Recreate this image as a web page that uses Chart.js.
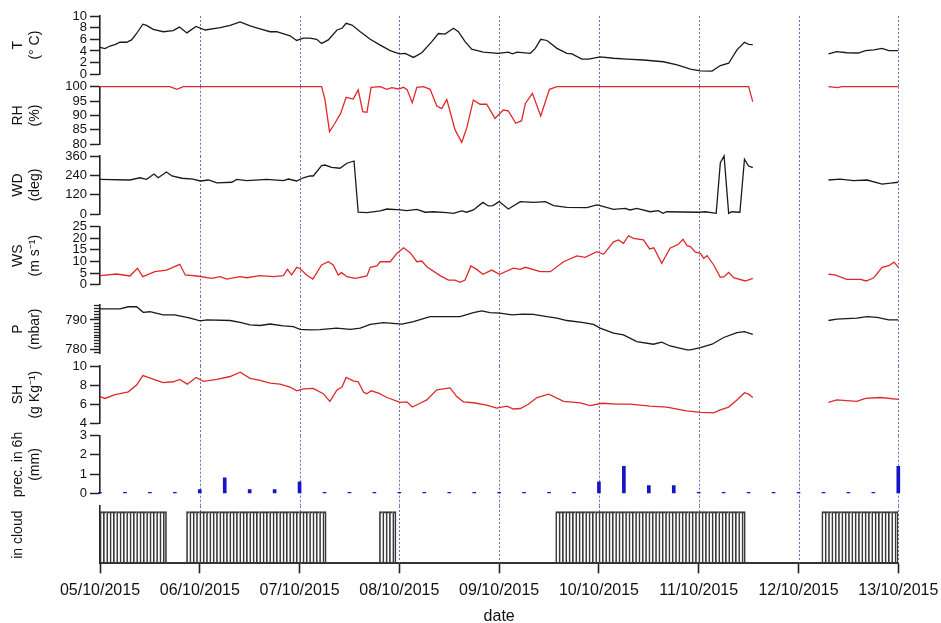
<!DOCTYPE html>
<html>
<head>
<meta charset="utf-8">
<script src="https://cdn.jsdelivr.net/npm/chart.js@4.4.1/dist/chart.umd.min.js"></script>
<style>
  html, body { margin: 0; padding: 0; background: #fff; }
  #wrap { position: relative; width: 941px; height: 623px; overflow: hidden; background: #fff; }
  #wrap canvas { position: absolute; left: 0; top: 0; }
</style>
</head>
<body>
<div id="wrap"></div>
<script>
// ---- data: hours since 05/10/2015 00:00, value (null = no data) ----
const dayLabels = ['05/10/2015','06/10/2015','07/10/2015','08/10/2015','09/10/2015','10/10/2015','11/10/2015','12/10/2015','13/10/2015'];

const temperature = [
  [0,4.6],[1.2,4.4],[2.4,4.85],[3.6,5.1],[4.8,5.5],[6.4,5.5],[7.6,5.9],[8.8,7.0],[10.3,8.6],[11.2,8.4],
  [12.8,7.7],[15.2,7.3],[17.6,7.5],[19.1,8.1],[20.9,7.1],[23.1,8.2],[25.3,7.6],[28.9,8.0],[31.3,8.4],[33.7,9.0],
  [36.1,8.3],[38.5,7.8],[40.9,7.3],[42.5,7.3],[45.7,6.6],[47.3,5.8],[48.9,6.2],[50.5,6.2],[52.1,6.0],[53.3,5.3],
  [54.9,5.9],[57.0,7.6],[58.2,7.9],[59.2,8.75],[60.6,8.45],[62.6,7.3],[65.0,6.0],[67.4,5.0],[69.8,4.05],[72.0,3.5],
  [73.4,3.6],[75.4,2.9],[77.4,3.7],[79.8,5.6],[81.4,7.0],[83.0,6.9],[85.0,7.9],[86.2,7.3],[87.8,5.6],[89.4,4.3],
  [92.2,3.8],[95.8,3.6],[98.2,3.8],[99.2,3.5],[100.3,3.8],[103.5,3.6],[104.7,4.45],[106.0,6.0],[107.5,5.8],[109.9,4.45],
  [112.3,3.6],[113.5,3.5],[115.9,2.6],[117.5,2.6],[120.3,3.0],[123.5,2.75],[126.7,2.6],[130.7,2.45],[135.5,2.15],[138.8,1.6],
  [142.0,0.9],[144.4,0.6],[147.2,0.55],[149.2,1.5],[151.2,1.9],[153.2,4.2],[155.0,5.5],[156.0,5.15],[157.0,5.1],[166,null],
  [175.2,3.5],[177.2,3.9],[179.7,3.7],[182.4,3.65],[184.1,4.05],[186.1,4.2],[188.1,4.45],[189.7,4.05],[192,4.05]
];

const humidity = [
  [0,100],[16.8,100],[18.5,99.1],[20.0,100],[53.3,100],[54.1,95.6],[55.2,84.4],[56.5,87.3],[57.9,90.8],[59.2,96.3],
  [60.9,95.7],[62.1,98.9],[63.2,91.3],[64.2,91.1],[65.2,99.8],[67.4,100],[69.0,99.1],[70.2,99.7],[71.8,99.2],[73.0,99.8],
  [73.9,98.9],[75.1,94.4],[76.2,99.8],[77.8,100],[79.4,99.1],[81.0,93.3],[82.2,92.4],[83.4,95.6],[85.4,85.0],[87.0,80.7],
  [88.2,85.6],[89.8,95.4],[91.4,93.9],[93.0,93.9],[95.0,89.0],[97.0,91.9],[98.2,91.6],[100.0,87.3],[101.4,88.2],[102.3,94.2],
  [104.0,97.7],[106.0,89.8],[108.1,99.1],[109.9,100],[156.0,100],[157.0,94.8],[166,null],
  [175.2,100],[177.4,99.7],[178.4,100],[192,100]
];

const windDir = [
  [0,215],[7.2,211],[9.6,225],[11.2,215],[13.0,248],[14.0,225],[16.0,261],[17.3,236],[19.7,222],[22.4,217],
  [24.1,205],[26.1,211],[28.1,193],[31.7,197],[32.9,215],[35.3,207],[40.1,215],[44.1,207],[45.3,217],[47.3,205],
  [48.9,225],[50.5,236],[51.3,236],[53.3,300],[54.1,304],[55.7,290],[57.7,284],[59.4,315],[61.1,329],[62.1,11],
  [64.2,8],[67.4,19],[69.0,31],[72.2,25],[73.8,21],[76.2,29],[78.2,11],[80.2,14],[83.4,8],[85.0,4],
  [87.0,19],[88.2,11],[89.8,25],[92.1,72],[93.4,50],[94.5,52],[96.0,77],[98.2,31],[101.1,77],[104.3,72],
  [107.1,77],[109.1,52],[112.3,41],[117.1,39],[119.5,56],[120.3,52],[123.5,29],[126.3,35],[127.5,25],[129.1,35],
  [132.3,14],[134.3,21],[135.4,4],[136.3,14],[144.0,11],[145.6,14],[148.2,4],[149.2,319],[150.1,360],[151.2,4],
  [151.9,14],[153.9,11],[155.0,340],[156.0,298],[157.0,288],[166,null],
  [175.2,211],[178.0,217],[181.2,207],[184.5,211],[188.1,186],[190.1,191],[192,197]
];

const windSpeed = [
  [0,3.9],[4.0,4.6],[7.2,3.75],[9.0,7.1],[10.3,3.45],[13.2,5.6],[16.0,6.3],[19.2,8.8],[20.5,4.2],[23.3,3.75],
  [26.9,2.75],[28.9,3.45],[30.5,2.45],[33.7,3.45],[35.3,3.0],[38.5,3.9],[41.7,3.45],[44.1,3.9],[45.1,6.6],[46.1,4.2],
  [47.3,7.5],[48.1,7.0],[49.7,4.2],[51.2,2.45],[53.3,8.5],[54.9,9.9],[56.1,8.5],[57.3,4.2],[58.1,5.2],[59.4,3.45],
  [61.4,2.75],[64.2,3.75],[65.0,7.5],[66.6,8.1],[67.4,9.9],[69.8,9.9],[71.4,13.5],[73.0,15.9],[74.6,13.8],[76.2,9.9],
  [77.4,10.2],[78.6,7.75],[81.8,3.9],[83.8,2.0],[85.4,2.0],[86.6,1.0],[87.8,2.0],[89.2,8.1],[90.6,6.6],[92.1,4.5],
  [94.2,6.3],[96.1,4.5],[99.4,7.1],[101.1,6.6],[102.3,7.5],[105.9,5.6],[108.3,5.6],[111.5,9.9],[114.7,12.4],[116.7,11.8],
  [119.5,14.2],[121.1,13.1],[123.5,18.5],[124.7,19.3],[125.9,17.8],[127.1,21.1],[128.3,20.0],[130.7,19.3],[132.2,15.4],[133.2,15.9],
  [135.1,9.2],[137.1,15.7],[139.1,17.4],[140.2,19.6],[141.2,16.8],[142.0,16.4],[143.2,14.0],[144.4,13.5],[145.2,11.4],[146.0,12.5],
  [147.6,8.5],[149.2,3.2],[150.1,3.45],[151.2,5.3],[152.4,3.0],[155.2,1.6],[157.0,2.75],[166,null],
  [175.2,4.5],[176.8,4.2],[179.6,2.3],[182.9,2.3],[184.3,1.6],[186.1,3.0],[188.1,7.5],[189.7,8.2],[191.0,9.7],[192,7.5]
];

const pressure = [
  [0,793.75],[4.8,793.75],[6.8,794.5],[8.8,794.5],[10.4,792.6],[12.0,792.8],[15.2,791.7],[18.0,791.7],[21.7,790.6],[24.1,789.7],
  [25.7,790.0],[31.3,789.8],[33.7,789.2],[36.1,788.3],[38.5,788.1],[40.9,788.6],[44.1,788.0],[46.5,787.7],[48.1,786.8],[50.5,786.6],
  [52.9,786.7],[56.9,787.2],[60.2,786.8],[62.6,787.2],[65.0,788.5],[68.2,789.1],[72.6,788.6],[75.4,789.4],[79.4,791.1],[86.6,791.1],
  [89.8,792.5],[91.8,793.1],[93.8,792.5],[96.2,792.3],[99.1,791.7],[101.8,792.0],[104.2,791.9],[107.5,791.1],[109.9,790.6],[112.3,789.8],
  [116.3,789.1],[118.7,788.5],[120.3,787.2],[123.5,785.5],[125.9,784.9],[129.1,782.6],[133.1,781.7],[135.1,782.4],[137.1,781.1],[141.2,779.8],
  [142.0,779.8],[144.4,780.5],[147.2,781.7],[150.0,784.0],[153.2,785.7],[155.0,786.0],[157.0,785.1],[166,null],
  [175.2,789.8],[177.2,790.3],[182.0,790.6],[184.5,791.1],[186.9,790.9],[189.7,790.0],[192,790.0]
];

const specHumidity = [
  [0,6.8],[1.2,6.6],[3.6,7.0],[4.8,7.1],[6.8,7.3],[8.8,8.0],[10.3,9.0],[11.6,8.8],[13.6,8.5],[15.2,8.25],
  [17.6,8.35],[19.2,8.6],[21.0,8.1],[23.1,8.8],[24.9,8.4],[28.1,8.6],[31.3,8.9],[33.7,9.35],[36.1,8.7],[38.5,8.5],
  [40.9,8.2],[43.3,8.1],[45.7,7.8],[47.3,7.4],[48.9,7.6],[51.3,7.65],[53.7,7.1],[55.3,6.3],[57.0,7.5],[58.2,7.8],
  [59.2,8.8],[60.9,8.45],[62.1,8.35],[63.4,7.25],[64.2,7.1],[65.2,7.4],[67.0,7.15],[69.0,6.7],[72.2,6.2],[73.8,6.25],
  [75.1,5.7],[77.0,6.1],[78.6,6.45],[81.0,7.5],[84.2,7.7],[85.8,6.8],[87.4,6.25],[89.8,6.15],[93.0,5.9],[95.4,5.6],
  [97.9,5.8],[99.4,5.5],[101.1,5.55],[103.0,6.0],[105.1,6.7],[107.9,7.05],[111.5,6.3],[115.5,6.15],[117.9,5.85],[120.7,6.1],
  [124.3,6.0],[127.5,6.0],[132.3,5.8],[136.3,5.7],[141.1,5.3],[144.4,5.15],[147.6,5.1],[149.2,5.4],[151.2,5.7],[153.2,6.45],
  [155.0,7.2],[156.0,7.05],[157.0,6.7],[166,null],
  [175.2,6.2],[177.2,6.45],[182.0,6.3],[184.1,6.6],[187.7,6.7],[192,6.5]
];

// precipitation accumulated over 6 h
const precip6h = [
  [0,0],[6,0],[12,0],[18,0],[24,0.2],[30,0.8],[36,0.2],[42,0.2],[48,0.6],[54,0],[60,0],
  [66,0],[72,0],[78,0],[84,0],[90,0],[96,0],[102,0],[108,0],[114,0],[120,0.6],[126,1.4],
  [132,0.4],[138,0.4],[144,0],[150,0],[156,0],[162,0],[168,0],[174,0],[180,0],[186,0],[192,1.4]
];

// in-cloud flag, one sample every cloudStep hours (one row per day)
const cloudStep = 0.8;
const inCloud = [
  1,1,1,1,1,1,1,1,1,1, 1,1,1,1,1,1,1,1,1,1, 0,0,0,0,0,0,1,1,1,1,
  1,1,1,1,1,1,1,1,1,1, 1,1,1,1,1,1,1,1,1,1, 1,1,1,1,1,1,1,1,1,1,
  1,1,1,1,1,1,1,1,0,0, 0,0,0,0,0,0,0,0,0,0, 0,0,0,0,1,1,1,1,1,0,
  0,0,0,0,0,0,0,0,0,0, 0,0,0,0,0,0,0,0,0,0, 0,0,0,0,0,0,0,0,0,0,
  0,0,0,0,0,0,0,0,0,0, 0,0,0,0,0,0,0,1,1,1, 1,1,1,1,1,1,1,1,1,1,
  1,1,1,1,1,1,1,1,1,1, 1,1,1,1,1,1,1,1,1,1, 1,1,1,1,1,1,1,1,1,1,
  1,1,1,1,1,1,1,1,1,1, 1,1,1,1,0,0,0,0,0,0, 0,0,0,0,0,0,0,0,0,0,
  0,0,0,0,0,0,0,1,1,1, 1,1,1,1,1,1,1,1,1,1, 1,1,1,1,1,1,1,1,1,1
];

const pressureMajorTicks = [780, 790];
const pressureMinorTicks = [779, 781, 782, 783, 784, 785, 786, 787, 788, 789, 791, 792, 793, 794, 795];

// ---- layout ----
const W = 941, H = 623;
const PLOT_LEFT = 100, PLOT_RIGHT = 898.3;
const FONT = '"Liberation Sans", Arial, Helvetica, sans-serif';
const BLACK = '#1a1a1a', RED = '#e0282a', BLUE = '#1414c8';
Chart.defaults.font.family = FONT;
Chart.defaults.color = '#111';

const toXY = arr => arr.map(([x, y]) => ({ x, y }));

const panels = [
  { title: ['T', '(° C)'], top: 16, bottom: 74.3, next: 86.7, min: 0, max: 10, step: 2, kind: 'line', data: temperature, color: BLACK },
  { title: ['RH', '(%)'], top: 86.7, bottom: 144.3, next: 156, min: 80, max: 100, step: 5, kind: 'line', data: humidity, color: RED },
  { title: ['WD', '(deg)'], top: 156, bottom: 214, next: 226.7, min: 0, max: 360, step: 120, kind: 'line', data: windDir, color: BLACK },
  { title: ['WS', '(m s\u207B\u00B9)'], top: 226.7, bottom: 284.7, next: 296, min: 0, max: 25, step: 5, kind: 'line', data: windSpeed, color: RED },
  { title: ['P', '(mbar)'], top: 305, bottom: 353.3, next: 366, min: 778.6, max: 795.1, major: pressureMajorTicks, minor: pressureMinorTicks, kind: 'line', data: pressure, color: BLACK, linesFrom: 296 },
  { title: ['SH', '(g Kg\u207B\u00B9)'], top: 366, bottom: 423.3, next: 435.7, min: 4, max: 10, step: 2, kind: 'line', data: specHumidity, color: RED },
  { title: ['prec. in 6h', '(mm)'], top: 435.7, bottom: 493.3, next: 506, min: 0, max: 3, step: 1, kind: 'precip', data: precip6h, color: BLUE },
  { title: 'in cloud', top: 506, bottom: 563.3, next: 563.3, min: 0, max: 1.11, kind: 'cloud', color: '#3a3a3a', last: true }
];

// dotted vertical line at each day boundary
const dayLines = {
  id: 'dayLines',
  beforeDatasetsDraw(chart, args, opts) {
    const { ctx } = chart;
    const xs = chart.scales.x;
    ctx.save();
    ctx.strokeStyle = 'rgba(85,85,175,0.85)';
    ctx.lineWidth = 1;
    ctx.setLineDash([2, 2]);
    for (let d = 1; d < dayLabels.length; d++) {
      const px = Math.round(xs.getPixelForValue(d * 24)) + 0.5;
      ctx.beginPath();
      ctx.moveTo(px, opts.y0);
      ctx.lineTo(px, opts.y1);
      ctx.stroke();
    }
    ctx.restore();
  }
};

// short unlabelled ticks on the y axis
const minorTicks = {
  id: 'minorTicks',
  afterDraw(chart, args, opts) {
    if (!opts.values) return;
    const { ctx } = chart;
    const ys = chart.scales.y;
    ctx.save();
    ctx.strokeStyle = '#222';
    ctx.lineWidth = 1.3;
    opts.values.forEach(v => {
      const py = Math.round(ys.getPixelForValue(v)) + 0.5;
      ctx.beginPath();
      ctx.moveTo(ys.right - 6, py);
      ctx.lineTo(ys.right, py);
      ctx.stroke();
    });
    ctx.restore();
  }
};

const wrap = document.getElementById('wrap');

panels.forEach((p) => {
  const canvas = document.createElement('canvas');
  canvas.width = W; canvas.height = H;
  canvas.style.width = W + 'px'; canvas.style.height = H + 'px';
  wrap.appendChild(canvas);

  let type = 'line';
  let datasets;
  if (p.kind === 'line') {
    datasets = [{
      data: toXY(p.data), borderColor: p.color, borderWidth: 1.3,
      pointRadius: 0, tension: 0, spanGaps: false, fill: false, clip: 4
    }];
  } else if (p.kind === 'precip') {
    type = 'bar';
    datasets = [{
      data: toXY(p.data), backgroundColor: p.color, borderWidth: 0,
      barThickness: 3, minBarLength: 1, clip: 4
    }];
  } else {
    type = 'bar';
    datasets = [{
      data: inCloud.map((v, i) => ({ x: (i + 0.5) * cloudStep, y: v ? v : null })),
      backgroundColor: 'rgba(255,255,255,0)', borderColor: p.color,
      // each sample outlines its left and top edges; the last one of a run closes it on the right
      borderWidth: (c) => ({ left: 1, top: 1.2, bottom: 0, right: inCloud[c.dataIndex + 1] ? 0 : 1 }),
      borderSkipped: 'bottom',
      barPercentage: 1, categoryPercentage: 1
    }];
  }

  const yScale = {
    type: 'linear', position: 'left', min: p.min, max: p.max,
    afterFit: (s) => { s.width = PLOT_LEFT; },
    ticks: {
      display: p.kind !== 'cloud', autoSkip: false, padding: 3,
      font: { size: 13 }, color: '#111'
    },
    grid: {
      drawOnChartArea: false, drawTicks: p.kind !== 'cloud',
      tickLength: 10, tickColor: '#222', tickWidth: 1.5
    },
    border: { display: true, color: '#222', width: 1.6 },
    title: {
      display: true, text: p.title, color: '#111',
      font: { size: 14, lineHeight: 1.25 }, padding: { top: 9, bottom: 0 }
    }
  };
  if (p.step) yScale.ticks.stepSize = p.step;
  if (p.major) {
    const list = p.major;
    yScale.afterBuildTicks = (s) => { s.ticks = list.map(v => ({ value: v })); };
  }

  const xScale = {
    type: 'linear', min: 0, max: 192, offset: false,
    display: !!p.last
  };
  if (p.last) {
    Object.assign(xScale, {
      afterFit: (s) => { s.height = H - p.bottom; s.paddingLeft = 0; s.paddingRight = 0; },
      afterBuildTicks: (s) => { s.ticks = dayLabels.map((l, i) => ({ value: i * 24 })); },
      ticks: {
        callback: (v, i) => dayLabels[i], autoSkip: false, maxRotation: 0,
        font: { size: 16 }, color: '#111', padding: 8
      },
      grid: {
        drawOnChartArea: false, drawTicks: true, tickLength: 10,
        tickColor: '#222', tickWidth: 1.6, offset: false
      },
      border: { display: true, color: '#333', width: 2 },
      title: {
        display: true, text: 'date', color: '#111',
        font: { size: 16, lineHeight: 1 }, padding: { top: 0, bottom: -1.5 }
      }
    });
  }

  new Chart(canvas.getContext('2d'), {
    type,
    data: { datasets },
    options: {
      responsive: false, animation: false, devicePixelRatio: 1,
      events: [],
      layout: { padding: { left: 0, right: W - PLOT_RIGHT, top: p.top, bottom: p.last ? 0 : H - p.bottom } },
      plugins: {
        legend: { display: false }, tooltip: { enabled: false },
        dayLines: { y0: p.linesFrom !== undefined ? p.linesFrom : p.top, y1: p.next },
        minorTicks: { values: p.minor || null }
      },
      scales: { x: xScale, y: yScale }
    },
    plugins: [dayLines, minorTicks]
  });
});
</script>
</body>
</html>
